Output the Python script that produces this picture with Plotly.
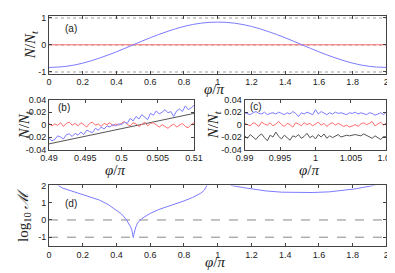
import plotly.graph_objects as go

# ---------------- data ----------------
# panel (a)
phi_a = [0.0, 0.1, 0.2, 0.3, 0.4, 0.5, 0.6, 0.7, 0.8, 0.9, 1.0,
         1.1, 1.2, 1.3, 1.4, 1.5, 1.6, 1.7, 1.8, 1.9, 2.0]
blue_a = [-0.84, -0.80, -0.68, -0.49, -0.26, 0.0, 0.26, 0.49, 0.68, 0.80, 0.84,
          0.80, 0.68, 0.49, 0.26, 0.0, -0.26, -0.49, -0.68, -0.80, -0.84]
red_a = [0.0] * len(phi_a)

# panel (b)
phi_b = [round(0.49 + i * 0.0004, 5) for i in range(51)]
blue_b = [-0.022, -0.026, -0.024, -0.018, -0.020, -0.023, -0.016, -0.015, -0.019, -0.014,
          -0.017, -0.012, -0.016, -0.009, -0.011, -0.013, -0.006, -0.009, -0.004, -0.007,
          -0.002, -0.004, 0.000, -0.002, 0.001, 0.000, 0.004, 0.002, 0.010, 0.006,
          0.013, 0.009, 0.016, 0.012, 0.008, 0.018, 0.015, 0.022, 0.017, 0.020,
          0.024, 0.019, 0.021, 0.013, 0.022, 0.025, 0.021, 0.030, 0.024, 0.027, 0.031]
red_b = [0.002, -0.002, 0.001, -0.001, 0.003, -0.003, 0.002, 0.004, -0.001, 0.002,
         -0.002, 0.003, 0.000, -0.004, 0.002, 0.004, -0.001, 0.001, -0.003, 0.002,
         0.000, 0.003, -0.002, 0.001, -0.001, 0.002, 0.005, 0.000, -0.002, 0.003,
         0.001, -0.003, 0.000, 0.004, -0.002, 0.002, 0.003, -0.001, -0.004, 0.000,
         -0.003, -0.006, -0.002, 0.001, -0.004, -0.001, 0.002, -0.003, -0.005, 0.000, 0.003]
phi_b_line = [0.49, 0.51]
black_b = [-0.031, 0.018]

# panel (c)
phi_c = [round(0.99 + i * 0.0004, 5) for i in range(51)]
blue_c = [0.019, 0.017, 0.016, 0.019, 0.021, 0.018, 0.017, 0.020, 0.016, 0.018,
          0.019, 0.017, 0.020, 0.018, 0.016, 0.019, 0.017, 0.021, 0.018, 0.013,
          0.019, 0.017, 0.020, 0.018, 0.016, 0.024, 0.017, 0.021, 0.018, 0.016,
          0.019, 0.017, 0.020, 0.018, 0.019, 0.017, 0.016, 0.019, 0.018, 0.020,
          0.017, 0.019, 0.018, 0.016, 0.019, 0.018, 0.015, 0.017, 0.019, 0.016, 0.021]
red_c = [0.002, 0.000, -0.002, 0.003, 0.001, -0.003, 0.004, 0.001, -0.001, 0.003,
         -0.002, 0.001, 0.005, 0.000, -0.003, 0.002, 0.000, -0.004, 0.003, 0.001,
         -0.002, 0.003, 0.000, 0.002, -0.002, 0.001, 0.004, -0.001, 0.002, -0.003,
         0.001, 0.003, -0.001, 0.002, 0.000, -0.003, -0.001, -0.004, -0.002, 0.000,
         -0.003, 0.001, 0.003, 0.000, 0.002, 0.005, -0.002, 0.001, 0.004, -0.001, 0.003]
black_c = [-0.018, -0.022, -0.016, -0.020, -0.024, -0.018, -0.015, -0.021, -0.026, -0.017,
           -0.020, -0.012, -0.019, -0.023, -0.017, -0.021, -0.025, -0.018, -0.020, -0.016,
           -0.022, -0.019, -0.014, -0.021, -0.018, -0.023, -0.016, -0.020, -0.015, -0.022,
           -0.018, -0.021, -0.019, -0.016, -0.020, -0.018, -0.017, -0.018, -0.017, -0.016,
           -0.017, -0.018, -0.015, -0.017, -0.020, -0.022, -0.018, -0.021, -0.024, -0.019, -0.020]

# panel (d)
phi_d = [0.040, 0.055, 0.08, 0.12, 0.16, 0.20, 0.25, 0.30, 0.35, 0.40, 0.43, 0.46,
         0.475, 0.485, 0.492, 0.497, 0.500, 0.503, 0.508, 0.515, 0.525, 0.55, 0.60,
         0.65, 0.70, 0.75, 0.80, 0.85, 0.90, 0.92, 0.94, 0.96,
         1.0,
         1.06, 1.08, 1.155, 1.22, 1.287, 1.38, 1.475, 1.56, 1.663, 1.74, 1.814, 1.87, 1.927, 1.95]
logM_d = [2.3, 2.0, 1.85, 1.72, 1.62, 1.50, 1.33, 1.15, 0.90, 0.57, 0.35, 0.0,
          -0.22, -0.42, -0.62, -0.85, -1.02, -0.85, -0.60, -0.40, -0.18, 0.08, 0.38,
          0.60, 0.77, 0.93, 1.10, 1.30, 1.55, 1.72, 2.0, 2.4,
          None,
          2.3, 2.0, 1.87, 1.76, 1.68, 1.61, 1.58, 1.59, 1.63, 1.70, 1.80, 1.90, 2.0, 2.2]
ref_x_d = [0, 2]
ref0_d = [0, 0]
refm1_d = [-1, -1]

# ---------------- style ----------------
BLUE = "#7b7bff"
RED = "#ff6b6b"
BLACK = "#555555"
AX = "#444444"
TICKFONT = dict(family="Liberation Sans, Arial", size=9, color="#222")
SERIF = dict(family="Liberation Serif, DejaVu Serif", size=15, color="#222")

W, H = 395, 273


def xd(a, b):
    return [a / W, b / W]


def yd(top, bottom):
    return [1 - bottom / H, 1 - top / H]


fig = go.Figure()


def line(x, y, color, xa, ya, shape="linear", dash=None, width=1):
    fig.add_trace(go.Scatter(x=x, y=y, mode="lines", xaxis=xa, yaxis=ya,
                             line=dict(color=color, width=width, shape=shape, dash=dash),
                             showlegend=False, hoverinfo="skip", connectgaps=False))


line(phi_a, red_a, RED, "x", "y")
line(phi_a, blue_a, BLUE, "x", "y", shape="spline")

line(phi_b_line, black_b, BLACK, "x2", "y2")
line(phi_b, red_b, RED, "x2", "y2")
line(phi_b, blue_b, BLUE, "x2", "y2")

line(phi_c, black_c, BLACK, "x3", "y3")
line(phi_c, red_c, RED, "x3", "y3")
line(phi_c, blue_c, BLUE, "x3", "y3")

line(ref_x_d, ref0_d, "#888", "x4", "y4", dash="dash")
line(ref_x_d, refm1_d, "#888", "x4", "y4", dash="dash")
line(phi_d, logM_d, BLUE, "x4", "y4")

common = dict(showline=True, linecolor=AX, linewidth=1, mirror="ticks", ticks="inside",
              ticklen=3, tickcolor=AX, tickfont=TICKFONT, zeroline=False, showgrid=False)

x_ticks_full = [0, 0.2, 0.4, 0.6, 0.8, 1, 1.2, 1.4, 1.6, 1.8, 2]
x_text_full = ["0", "0.2", "0.4", "0.6", "0.8", "1", "1.2", "1.4", "1.6", "1.8", "2"]

fig.update_layout(
    width=W, height=H, margin=dict(l=0, r=0, t=0, b=0),
    paper_bgcolor="white", plot_bgcolor="white",
    xaxis=dict(domain=xd(33.5, 387), range=[0, 2], anchor="y",
               tickvals=x_ticks_full, ticktext=x_text_full, **common),
    yaxis=dict(domain=yd(3, 63), range=[-1.07, 1.07], anchor="x",
               tickvals=[-1, 0, 1], ticktext=["-1", "0", "1"],
               **{**common, "showgrid": True}, gridcolor="#cfcfcf", griddash="dot", gridwidth=1.5),
    xaxis2=dict(domain=xd(33.5, 185.5), range=[0.49, 0.51], anchor="y2",
                tickvals=[0.49, 0.495, 0.5, 0.505, 0.51],
                ticktext=["0.49", "0.495", "0.5", "0.505", "0.51"], **common),
    yaxis2=dict(domain=yd(90, 141.7), range=[-0.04, 0.04], anchor="x2",
                tickvals=[-0.04, -0.02, 0, 0.02, 0.04],
                ticktext=["-0.04", "-0.02", "0", "0.02", "0.04"], **common),
    xaxis3=dict(domain=xd(238.5, 387), range=[0.99, 1.01], anchor="y3",
                tickvals=[0.99, 0.995, 1, 1.005, 1.01],
                ticktext=["0.99", "0.995", "1", "1.005", "1.01"], **common),
    yaxis3=dict(domain=yd(90, 141.7), range=[-0.04, 0.04], anchor="x3",
                tickvals=[-0.04, -0.02, 0, 0.02, 0.04],
                ticktext=["-0.04", "-0.02", "0", "0.02", "0.04"], **common),
    xaxis4=dict(domain=xd(33.5, 387), range=[0, 2], anchor="y4",
                tickvals=x_ticks_full, ticktext=x_text_full, **common),
    yaxis4=dict(domain=yd(179, 241.7), range=[-1.5, 2], anchor="x4",
                tickvals=[-1, 0, 1, 2], ticktext=["-1", "0", "1", "2"], **common),
)

NN = "<i>N</i>/<i>N</i><sub><i>t</i></sub>"
PHI = "<i>φ</i>/<i>π</i>"
LOGM = "log<sub>10</sub> <i>ℳ</i>"


def ann(text, x, y, font, angle=0):
    fig.add_annotation(text=text, x=x / W, y=1 - y / H, xref="paper", yref="paper",
                       showarrow=False, textangle=angle, font=font,
                       xanchor="center", yanchor="middle")


ann(NN, 14, 33, SERIF, -90)
ann(PHI, 206, 79, SERIF)
ann(NN, 8, 116, SERIF, -90)
ann(PHI, 103, 163, SERIF)
ann(NN, 206, 116, SERIF, -90)
ann(PHI, 306, 163, SERIF)
ann(LOGM, 8, 210, SERIF, -90)
ann(PHI, 207, 258, SERIF)

LBL = dict(family="Liberation Sans, Arial", size=10, color="#222")
ann("(a)", 57, 16, LBL)
ann("(b)", 49, 98, LBL)
ann("(c)", 250, 97, LBL)
ann("(d)", 57, 198, LBL)

fig.write_html("out.html")
